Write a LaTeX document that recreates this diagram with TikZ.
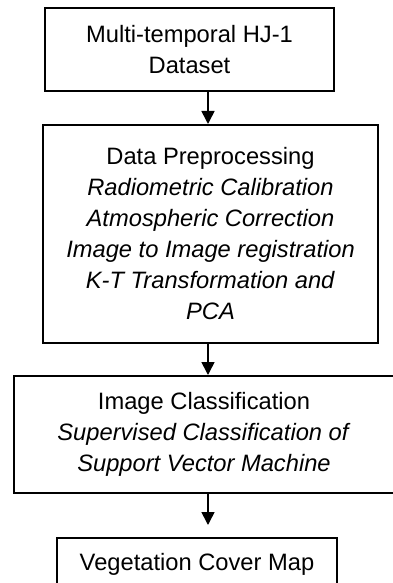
\documentclass[tikz,border=0pt]{standalone}
\usepackage{fontspec}
\setmainfont{Liberation Sans}
\usetikzlibrary{arrows.meta,positioning}

\begin{document}
\begin{tikzpicture}[
  x=0.5pt,y=-0.5pt,
  stagebox/.style={draw=black,line width=1pt,inner sep=0pt,align=center,
                   font=\fontsize{11.85}{15.5}\selectfont},
  flow/.style={-{Triangle[length=6.5pt,width=6.5pt]},line width=0.8pt}
]
\useasboundingbox (0,0) rectangle (392,583);
\coordinate (axis) at (208,0);
\node[stagebox,minimum width=144.5pt,minimum height=41.5pt] (dataset)
  at (189.5,49.5) {Multi-temporal HJ-1\\Dataset};
\node[stagebox,minimum width=167.5pt,minimum height=109pt] (prep)
  at (210.5,234)
  {Data Preprocessing\\
   \textit{Radiometric Calibration}\\
   \textit{Atmospheric Correction}\\
   \textit{Image to Image registration}\\
   \textit{K-T Transformation and}\\
   \textit{PCA}};
\node[stagebox,minimum width=190pt,minimum height=58.5pt] (classify)
  at (204,434.5)
  {Image Classification\\
   \textit{Supervised Classification of}\\
   \textit{Support Vector Machine}};
\node[stagebox,minimum width=140pt,minimum height=26pt] (covermap)
  at (197,564) {Vegetation Cover Map};
\draw[flow] (dataset.south -| axis) -- (prep.north -| axis);
\draw[flow] (prep.south -| axis) -- (classify.north -| axis);
\draw[flow,shorten >=6pt] (classify.south -| axis) -- (covermap.north -| axis);
\end{tikzpicture}
\end{document}
